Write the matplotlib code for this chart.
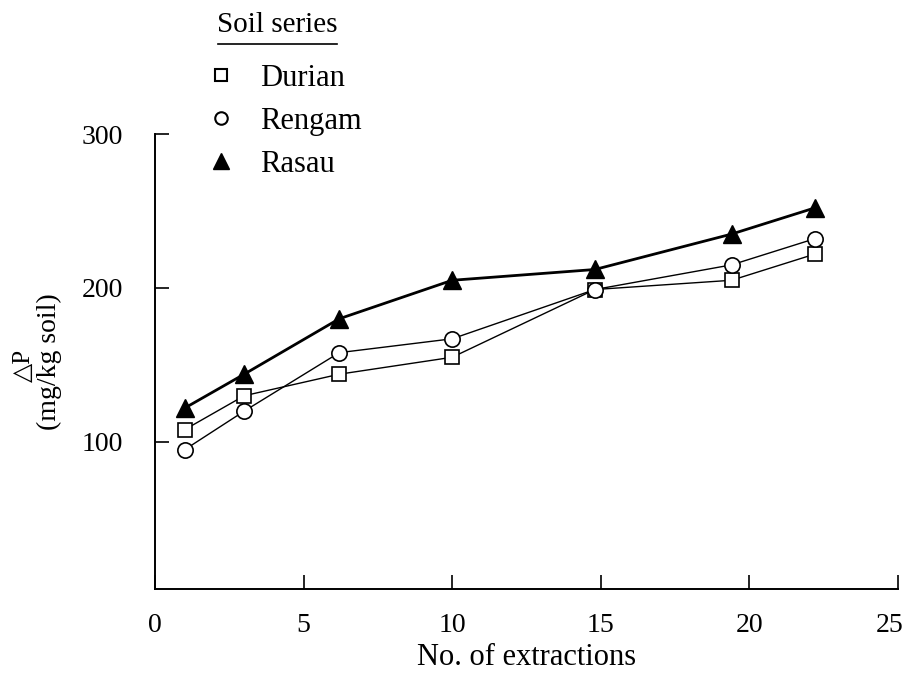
import matplotlib
matplotlib.use("Agg")
import matplotlib.pyplot as plt
import matplotlib.transforms as mtransforms
from matplotlib.lines import Line2D

plt.rcParams["font.family"] = ["Liberation Serif", "DejaVu Sans"]

# data
extractions = [1, 3, 6.2, 10, 14.8, 19.4, 22.2]
durian = [108, 130, 144, 155, 199, 205, 222]
rengam = [95, 120, 158, 167, 199, 215, 232]
rasau = [122, 144, 180, 205, 212, 235, 252]

x_ticks = [0, 5, 10, 15, 20, 25]
y_ticks = [100, 200, 300]

fig = plt.figure(figsize=(9.08, 6.75), dpi=100)
ax = fig.add_axes([155 / 908, 1 - 589 / 675, (898 - 155) / 908, (589 - 134) / 675])

ax.plot(extractions, durian, color="black", lw=1.0, marker="s", ms=10,
        mfc="white", mec="black", mew=1.2, zorder=3)
ax.plot(extractions, rengam, color="black", lw=1.0, marker="o", ms=11,
        mfc="white", mec="black", mew=1.2, zorder=4)
ax.plot(extractions, rasau, color="black", lw=2.0, marker="^", ms=13,
        mfc="black", mec="black", zorder=5)

ax.set_xlim(0, 25)
ax.set_ylim(4.5, 300)
ax.set_xticks(x_ticks)
ax.set_yticks(y_ticks)
ax.tick_params(direction="in", length=10, width=1.2, labelsize=20)
ax.tick_params(axis="x", pad=17)
ax.tick_params(axis="y", pad=23)
for side in ["top", "right"]:
    ax.spines[side].set_visible(False)
for side in ["left", "bottom"]:
    ax.spines[side].set_linewidth(1.4)

# last x label sits a bit left so it stays in the picture
last = ax.get_xticklabels()[-1]
last.set_transform(last.get_transform() + mtransforms.ScaledTranslation(-8 / 100, 0, fig.dpi_scale_trans))

ax.set_xlabel("No. of extractions", fontsize=22, labelpad=4)
fig.text(24 / 908, 1 - 365 / 675, "△P", rotation=90, fontsize=18,
         ha="center", va="center")
fig.text(49 / 908, 1 - 362 / 675, "(mg/kg soil)", rotation=90, fontsize=20,
         ha="center", va="center")

# legend
fig.text(277 / 908, 1 - 25 / 675, "Soil series", fontsize=21, ha="center", va="center")
fig.add_artist(Line2D([218 / 908, 337 / 908], [1 - 44 / 675, 1 - 44 / 675],
                      color="black", lw=1.2))
handles = [
    Line2D([], [], ls="none", marker="s", ms=9, mfc="white", mec="black", mew=1.5),
    Line2D([], [], ls="none", marker="o", ms=9, mfc="white", mec="black", mew=1.5),
    Line2D([], [], ls="none", marker="^", ms=11, mfc="black", mec="black"),
]
fig.legend(handles, ["Durian", "Rengam", "Rasau"], loc="upper left",
           bbox_to_anchor=(210 / 908, 1 - 64 / 675), frameon=False, fontsize=22,
           handlelength=0.7, handletextpad=0.95, labelspacing=0.45,
           borderpad=0, borderaxespad=0)

fig.savefig("out.png", dpi=100)
